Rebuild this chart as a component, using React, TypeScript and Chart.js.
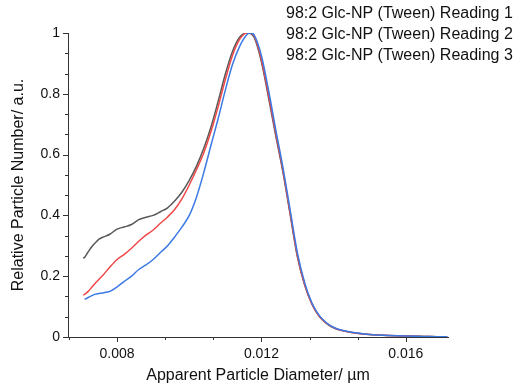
import React, { useEffect, useRef } from 'react';
import { Chart, registerables } from 'chart.js';

Chart.register(...registerables);

const diameters = [
  0.00706, 0.0071, 0.0072, 0.0073, 0.0074, 0.0075, 0.0076, 0.0078, 0.008, 0.0082,
  0.0084, 0.0086, 0.0088, 0.009, 0.0092, 0.0094, 0.0096, 0.0098, 0.01, 0.0102,
  0.0104, 0.0106, 0.0108, 0.011, 0.0112, 0.0114, 0.0116, 0.0117, 0.0118, 0.012,
  0.0122, 0.0124, 0.0126, 0.0128, 0.013, 0.0132, 0.0134, 0.0136, 0.0138, 0.014,
  0.0142, 0.0144, 0.0146, 0.0148, 0.015, 0.0155, 0.016, 0.0165, 0.017, 0.01715,
];

const reading1 = [
  0.26, 0.262, 0.28, 0.297, 0.31, 0.322, 0.328, 0.338, 0.355, 0.362,
  0.37, 0.386, 0.394, 0.4, 0.412, 0.425, 0.448, 0.477, 0.515, 0.562,
  0.62, 0.69, 0.775, 0.865, 0.94, 0.987, 1.0, 0.998, 0.985, 0.905,
  0.785, 0.66, 0.54, 0.4, 0.262, 0.17, 0.108, 0.068, 0.045, 0.03,
  0.022, 0.017, 0.013, 0.01, 0.008, 0.005, 0.003, 0.002, 0.001, 0.001,
];

const reading2 = [
  0.138, 0.14, 0.15, 0.164, 0.178, 0.19, 0.202, 0.23, 0.255, 0.272,
  0.292, 0.315, 0.335, 0.352, 0.374, 0.395, 0.42, 0.455, 0.5, 0.55,
  0.605, 0.675, 0.757, 0.847, 0.927, 0.98, 1.0, 1.0, 0.99, 0.912,
  0.795, 0.668, 0.545, 0.405, 0.265, 0.172, 0.109, 0.069, 0.046, 0.031,
  0.022, 0.017, 0.013, 0.01, 0.008, 0.005, 0.003, 0.002, 0.001, 0.001,
];

const reading3 = [
  null, 0.124, 0.13, 0.136, 0.141, 0.143, 0.145, 0.15, 0.165, 0.183,
  0.2, 0.222, 0.237, 0.255, 0.278, 0.3, 0.33, 0.362, 0.4, 0.46,
  0.54, 0.63, 0.718, 0.812, 0.897, 0.957, 0.995, 1.0, 0.993, 0.925,
  0.81, 0.68, 0.555, 0.415, 0.275, 0.178, 0.112, 0.071, 0.047, 0.032,
  0.023, 0.018, 0.014, 0.011, 0.008, 0.005, 0.003, 0.002, 0.001, 0.001,
];

const seriesLabels = [
  '98:2 Glc-NP (Tween) Reading 1',
  '98:2 Glc-NP (Tween) Reading 2',
  '98:2 Glc-NP (Tween) Reading 3',
];
const seriesColors = ['#585858', '#f04848', '#3b7ae4'];

const xMajorTicks = [0.008, 0.012, 0.016];
const xMinorTicks = [0.006667, 0.009333, 0.010667, 0.013333, 0.014667];
const yMajorTicks = [0, 0.2, 0.4, 0.6, 0.8, 1];
const yMinorTicks = [0.0667, 0.1333, 0.2667, 0.3333, 0.4667, 0.5333, 0.6667, 0.7333, 0.8667, 0.9333];

const FONT = "'Liberation Sans', Arial, sans-serif";
const AXIS_COLOR = '#333333';

const tickMarksPlugin = {
  id: 'tickMarks',
  afterDraw(chart: any) {
    const ctx = chart.ctx;
    const xs = chart.scales.x;
    const ys = chart.scales.y;
    ctx.save();
    ctx.strokeStyle = AXIS_COLOR;
    ctx.lineWidth = 1;
    ctx.beginPath();
    const bottom = ys.getPixelForValue(0);
    const left = xs.getPixelForValue(xs.min);
    const drawX = (v: number, len: number) => {
      if (v < xs.min || v > xs.max) return;
      const px = Math.round(xs.getPixelForValue(v)) + 0.5;
      ctx.moveTo(px, bottom);
      ctx.lineTo(px, bottom + len);
    };
    const drawY = (v: number, len: number) => {
      const py = Math.round(ys.getPixelForValue(v)) + 0.5;
      ctx.moveTo(left, py);
      ctx.lineTo(left - len, py);
    };
    xMajorTicks.forEach((v) => drawX(v, 5));
    xMinorTicks.forEach((v) => drawX(v, 3));
    yMajorTicks.forEach((v) => drawY(v, 5));
    yMinorTicks.forEach((v) => drawY(v, 3));
    ctx.stroke();
    ctx.restore();
  },
};

const textLegendPlugin = {
  id: 'textLegend',
  afterDraw(chart: any) {
    const ctx = chart.ctx;
    ctx.save();
    ctx.font = `16px ${FONT}`;
    ctx.fillStyle = '#111111';
    ctx.textAlign = 'left';
    ctx.textBaseline = 'middle';
    seriesLabels.forEach((label, i) => {
      ctx.fillText(label, 286, 14 + i * 21);
    });
    ctx.restore();
  },
};

export default function App() {
  const canvasRef = useRef<HTMLCanvasElement | null>(null);

  useEffect(() => {
    if (!canvasRef.current) return;
    const series = [reading1, reading2, reading3];
    const chart = new Chart(canvasRef.current, {
      type: 'line',
      data: {
        datasets: series.map((vals, i) => ({
          label: seriesLabels[i],
          data: diameters.map((d, j) => ({ x: d, y: vals[j] })),
          borderColor: seriesColors[i],
          backgroundColor: seriesColors[i],
          borderWidth: 1.5,
          pointRadius: 0,
          cubicInterpolationMode: 'monotone' as const,
          fill: false,
          order: 2 - i,
        })),
      },
      options: {
        responsive: false,
        animation: false,
        layout: { padding: { top: 33, right: 71, left: 0, bottom: 0 } },
        plugins: {
          legend: { display: false },
          tooltip: { enabled: false },
          title: { display: false },
        },
        scales: {
          x: {
            type: 'linear',
            min: 0.00664,
            max: 0.01717,
            afterFit: (scale: any) => {
              scale.height = 49;
            },
            afterBuildTicks: (scale: any) => {
              scale.ticks = xMajorTicks.map((v) => ({ value: v }));
            },
            grid: { display: false, drawTicks: true, tickLength: 5 },
            border: { display: true, color: AXIS_COLOR, width: 1 },
            ticks: {
              padding: 4,
              maxRotation: 0,
              autoSkip: false,
              color: '#111111',
              font: { family: FONT, size: 14 },
              callback: (v: any) => Number(v).toFixed(3),
            },
            title: {
              display: true,
              text: 'Apparent Particle Diameter/ µm',
              color: '#111111',
              font: { family: FONT, size: 16 },
              padding: { top: 0, bottom: 1 },
            },
          },
          y: {
            type: 'linear',
            min: 0,
            max: 1,
            afterFit: (scale: any) => {
              scale.width = 68;
            },
            afterBuildTicks: (scale: any) => {
              scale.ticks = yMajorTicks.map((v) => ({ value: v }));
            },
            grid: { display: false, drawTicks: true, tickLength: 5 },
            border: { display: true, color: AXIS_COLOR, width: 1 },
            ticks: {
              padding: 3,
              autoSkip: false,
              color: '#111111',
              font: { family: FONT, size: 14 },
              callback: (v: any) => String(Number(Number(v).toFixed(2))),
            },
            title: {
              display: true,
              text: 'Relative Particle Number/ a.u.',
              color: '#111111',
              font: { family: FONT, size: 16 },
              padding: { top: 9, bottom: 0 },
            },
          },
        },
      },
      plugins: [tickMarksPlugin, textLegendPlugin],
    } as any);
    return () => chart.destroy();
  }, []);

  return (
    <div style={{ position: 'fixed', left: 0, top: 0, width: 519, height: 386, background: '#ffffff' }}>
      <canvas ref={canvasRef} width={519} height={386} style={{ width: 519, height: 386, display: 'block' }} />
    </div>
  );
}
